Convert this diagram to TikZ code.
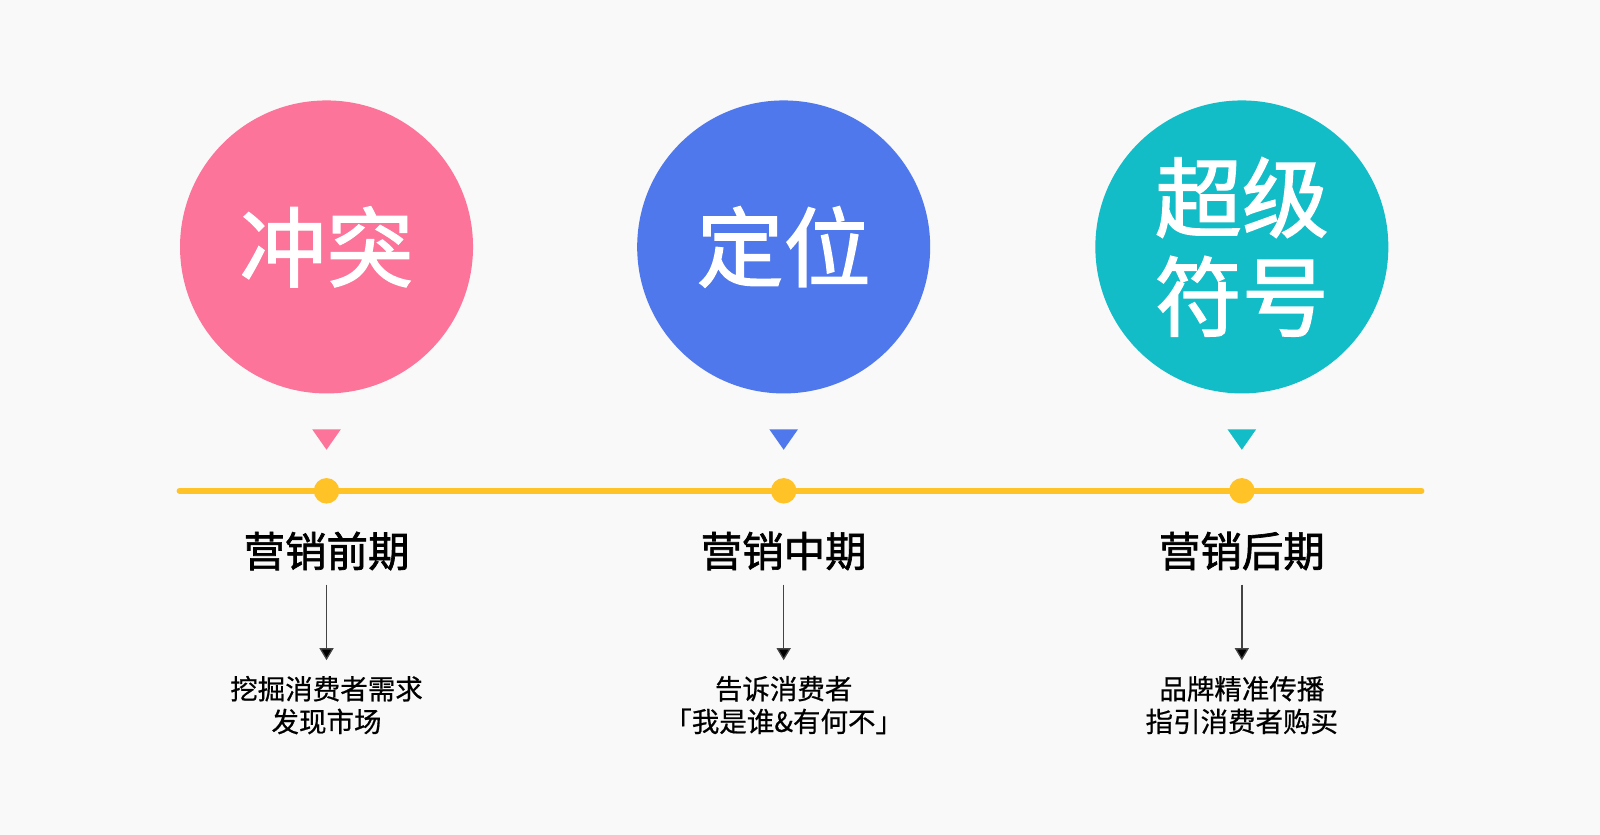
\documentclass[tikz,border=0pt]{standalone}
\usepackage{fontspec}
\setmainfont{Noto Sans CJK SC}
\newfontfamily\cjk{Noto Sans CJK SC}[FakeBold=0.6]
\newfontfamily\cjkm{Noto Sans CJK SC}[FakeBold=1.6]
\usetikzlibrary{arrows.meta,shapes.geometric}
\definecolor{bgc}{HTML}{F9F9F9}
\definecolor{pinkc}{HTML}{FC7499}
\definecolor{bluec}{HTML}{4F78EC}
\definecolor{tealc}{HTML}{12BDC7}
\definecolor{linec}{HTML}{FFC328}
\definecolor{arrc}{HTML}{444444}
\tikzset{
  bigcirc/.style={circle, minimum size=293pt, inner sep=0pt, text=white, align=center,
    font=\cjkm\fontsize{87}{99}\selectfont},
  tri/.style={isosceles triangle, isosceles triangle apex angle=70, shape border rotate=-90,
    minimum height=20.5pt, minimum width=28pt, inner sep=0pt},
  dotc/.style={circle, fill=linec, minimum size=25.5pt, inner sep=0pt},
  stagelab/.style={font=\cjkm\fontsize{41.5}{46}\selectfont, text=black, inner sep=0pt},
  sublab/.style={font=\cjk\fontsize{27.5}{32.7}\selectfont, text=black, align=center, inner sep=0pt},
  arr/.style={draw=arrc, line width=1.3pt, -{Triangle[length=12pt,width=14pt,fill=black]}},
}
\begin{document}
\begin{tikzpicture}[x=1.0204pt,y=-1.0204pt]
\useasboundingbox[fill=bgc] (0,0) rectangle (1568,818.3);
% timeline
\coordinate (tl) at (176,481);
\coordinate (tr) at (1393,481);
\draw[linec, line width=6pt, line cap=round] (tl) -- (tr);
% circles
\node[bigcirc, fill=pinkc] (c1) at (320,242) {冲突};
\node[bigcirc, fill=bluec] (c2) at (768,242) {定位};
\node[bigcirc, fill=tealc] (c3) at (1217,242) {超级\\符号};
% triangles
\node[tri, fill=pinkc] (t1) at (320,428) {};
\node[tri, fill=bluec] (t2) at (768,428) {};
\node[tri, fill=tealc] (t3) at (1217,428) {};
% dots
\node[dotc] (d1) at (320,481) {};
\node[dotc] (d2) at (768,481) {};
\node[dotc] (d3) at (1217,481) {};
% stage labels
\node[stagelab] (s1) at (320,540) {营销前期};
\node[stagelab] (s2) at (768,540) {营销中期};
\node[stagelab] (s3) at (1217,540) {营销后期};
% sub labels
\node[sublab] (b1) at (320,691) {挖掘消费者需求\\发现市场};
\node[sublab] (b2) at (768,691) {告诉消费者\\「我是谁\&有何不」};
\node[sublab] (b3) at (1217,691) {品牌精准传播\\指引消费者购买};
% arrows
\coordinate (a1s) at (320,573); \coordinate (a1e) at (320,647);
\coordinate (a2s) at (768,573); \coordinate (a2e) at (768,647);
\coordinate (a3s) at (1217,573); \coordinate (a3e) at (1217,647);
\draw[arr] (a1s) -- (a1e);
\draw[arr] (a2s) -- (a2e);
\draw[arr] (a3s) -- (a3e);
\end{tikzpicture}
\end{document}
